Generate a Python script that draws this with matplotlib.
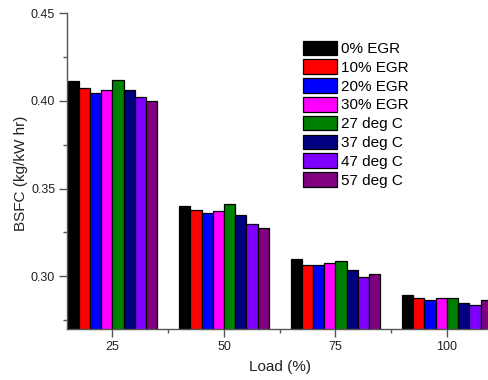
import matplotlib
matplotlib.use("Agg")
import matplotlib.pyplot as plt
import numpy as np

loads = [25, 50, 75, 100]
series_names = ["0% EGR", "10% EGR", "20% EGR", "30% EGR",
                "27 deg C", "37 deg C", "47 deg C", "57 deg C"]
colors = ["#000000", "#FF0000", "#0000FF", "#FF00FF",
          "#008000", "#000080", "#8000FF", "#800080"]
values = [
    [0.4114, 0.3400, 0.3097, 0.2896],  # 0% EGR
    [0.4070, 0.3379, 0.3067, 0.2877],  # 10% EGR
    [0.4043, 0.3358, 0.3067, 0.2867],  # 20% EGR
    [0.4062, 0.3370, 0.3077, 0.2877],  # 30% EGR
    [0.4121, 0.3410, 0.3088, 0.2877],  # 27 deg C
    [0.4062, 0.3350, 0.3036, 0.2846],  # 37 deg C
    [0.4022, 0.3299, 0.2997, 0.2834],  # 47 deg C
    [0.4001, 0.3278, 0.3016, 0.2865],  # 57 deg C
]

plt.rcParams['font.family'] = ['Liberation Sans', 'DejaVu Sans']

W, H = 488, 380
fig = plt.figure(figsize=(W / 100, H / 100), dpi=100)
ax = fig.add_axes([67 / W, (H - 329) / H, (488 - 67) / W, (329 - 13) / H])

bw = 2.52
n = len(series_names)
x = np.array(loads, dtype=float)
for i, (name, col, vals) in enumerate(zip(series_names, colors, values)):
    offs = (i - (n - 1) / 2) * bw
    ax.bar(x + offs, vals, width=bw, color=col, edgecolor="black",
           linewidth=0.9, label=name, zorder=2)

ax.set_xlim(14.8, 109.2)
ax.set_ylim(0.27, 0.45)
ax.set_xticks(loads)
ax.set_xticks([37.5, 62.5, 87.5], minor=True)
ax.set_yticks([0.30, 0.35, 0.40, 0.45])
ax.set_yticks([0.275, 0.325, 0.375, 0.425], minor=True)
ax.set_yticklabels(["0.30", "0.35", "0.40", "0.45"])

for s in ["top", "right"]:
    ax.spines[s].set_visible(False)
for s in ["left", "bottom"]:
    ax.spines[s].set_color("#555555")
    ax.spines[s].set_linewidth(1.0)

ax.tick_params(axis="both", which="major", direction="out", length=5.5,
               width=1, color="#555555", labelsize=9, labelcolor="#222222", pad=3)
ax.tick_params(axis="both", which="minor", direction="out", length=3,
               width=1, color="#555555")

ax.set_xlabel("Load (%)", fontsize=11, color="#222222")
ax.set_ylabel("BSFC (kg/kW hr)", fontsize=11, color="#222222")
ax.xaxis.set_label_coords((280 - 67) / (488 - 67), -(367 - 329) / (329 - 13))
ax.yaxis.set_label_coords(-(67 - 21.5) / (488 - 67), (329 - 173) / (329 - 13))
ax.xaxis.label.set_va("center")
ax.yaxis.label.set_va("center")

leg = fig.legend(loc="upper left", bbox_to_anchor=(303 / W, 1 - 40.5 / H),
                 frameon=False, fontsize=11, borderpad=0, borderaxespad=0,
                 labelspacing=0.215, handlelength=2.2, handleheight=1.1,
                 handletextpad=0.3)

fig.savefig("out.png", dpi=100)
